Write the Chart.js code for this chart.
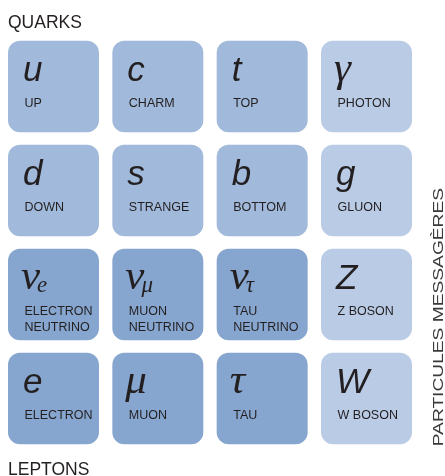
<!DOCTYPE html>
<html><head><meta charset="utf-8">
<script src="https://cdn.jsdelivr.net/npm/chart.js@4"></script>
<style>html,body{margin:0;padding:0;background:#fff;}#wrap{width:445px;height:476px;position:relative;}</style>
</head><body><div id="wrap"><canvas id="c"></canvas></div>
<script>
// ---- data ----
const columns = ['I', 'II', 'III', 'Bosons'];
const rows = ['up-type quarks', 'down-type quarks', 'neutrinos', 'charged leptons'];
const symbols = [
  ['u', 'c', 't', 'γ'],
  ['d', 's', 'b', 'g'],
  ['ν', 'ν', 'ν', 'Z'],
  ['e', 'μ', 'τ', 'W']
];
const subscripts = [
  ['', '', '', ''],
  ['', '', '', ''],
  ['e', 'μ', 'τ', ''],
  ['', '', '', '']
];
const names = [
  ['UP', 'CHARM', 'TOP', 'PHOTON'],
  ['DOWN', 'STRANGE', 'BOTTOM', 'GLUON'],
  ['ELECTRON\nNEUTRINO', 'MUON\nNEUTRINO', 'TAU\nNEUTRINO', 'Z BOSON'],
  ['ELECTRON', 'MUON', 'TAU', 'W BOSON']
];
const families = [
  ['Q', 'Q', 'Q', 'B'],
  ['Q', 'Q', 'Q', 'B'],
  ['L', 'L', 'L', 'B'],
  ['L', 'L', 'L', 'B']
];
const familyColors = { Q: '#A1B9DA', L: '#86A6CF', B: '#B9CBE5' };
const topTitle = 'QUARKS';
const bottomTitle = 'LEPTONS';
const sideTitle = 'PARTICULES MESSAGÈRES';

// ---- chart ----
const GAP = 0.06;
const TEXT = '#231f20';
const datasets = rows.map((rowName, r) => ({
  label: rowName,
  data: columns.map(() => [r + GAP, r + 1 - GAP]),
  backgroundColor: columns.map((_, c) => familyColors[families[r][c]]),
  borderRadius: 12,
  borderSkipped: false,
  borderWidth: 0,
  grouped: false,
  categoryPercentage: 1,
  barPercentage: 0.872
}));

const isGreek = s => /[\u0370-\u03FF]/.test(s);

const tileText = {
  id: 'tileText',
  afterDatasetsDraw(chart) {
    const ctx = chart.ctx;
    ctx.save();
    ctx.fillStyle = TEXT;
    ctx.textBaseline = 'alphabetic';
    ctx.textAlign = 'left';
    let firstLeft = 0, firstTop = 0, lastBottom = 0, lastRight = 0;
    rows.forEach((_, r) => {
      const meta = chart.getDatasetMeta(r);
      meta.data.forEach((bar, c) => {
        const left = bar.x - bar.width / 2;
        const top = Math.min(bar.y, bar.base);
        const bottom = Math.max(bar.y, bar.base);
        if (r === 0 && c === 0) { firstLeft = left; firstTop = top; }
        if (r === rows.length - 1) { lastBottom = bottom; lastRight = Math.max(lastRight, left + bar.width); }
        const sym = symbols[r][c];
        const greek = isGreek(sym);
        ctx.font = greek ? 'italic 43px "Liberation Serif", "DejaVu Serif", serif'
                         : 'italic 35px "Liberation Sans", Arial, sans-serif';
        const sx = left + (greek ? 13 : 15);
        const sy = top + 40;
        ctx.fillText(sym, sx, sy);
        const sub = subscripts[r][c];
        if (sub) {
          const w = ctx.measureText(sym).width;
          ctx.font = 'italic 23px "Liberation Serif", "DejaVu Serif", serif';
          ctx.fillText(sub, sx + w - 3, sy + 3);
        }
        ctx.font = '12.5px "Liberation Sans", Arial, sans-serif';
        names[r][c].split('\n').forEach((line, i) => {
          ctx.fillText(line, left + 16.5, top + 66.5 + i * 16);
        });
      });
    });
    // group titles
    ctx.font = '17.5px "Liberation Sans", Arial, sans-serif';
    ctx.fillText(topTitle, firstLeft, firstTop - 13);
    ctx.fillText(bottomTitle, firstLeft, lastBottom + 30.5);
    // side title (rotated)
    ctx.save();
    ctx.translate(lastRight + 30.5, lastBottom + 2);
    ctx.rotate(-Math.PI / 2);
    ctx.scale(1.37, 1);
    ctx.font = '14px "Liberation Sans", Arial, sans-serif';
    ctx.fillStyle = '#3a3a3a';
    ctx.fillText(sideTitle, 0, 0);
    ctx.restore();
    ctx.restore();
  }
};

new Chart(document.getElementById('c'), {
  type: 'bar',
  data: { labels: columns, datasets },
  options: {
    responsive: true,
    maintainAspectRatio: false,
    animation: false,
    layout: { padding: { left: 1.3, right: 26.3, top: 34.5, bottom: 25.5 } },
    scales: {
      x: { display: false, offset: true },
      y: { display: false, min: 0, max: 4, reverse: true }
    },
    plugins: { legend: { display: false }, tooltip: { enabled: false }, title: { display: false } },
    events: []
  },
  plugins: [tileText]
});
</script>
</body></html>
